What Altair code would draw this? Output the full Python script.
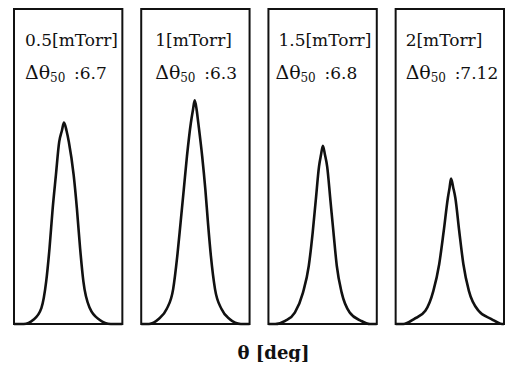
import altair as alt
import pandas as pd

# ---- data ----
pressures = ["0.5[mTorr]", "1[mTorr]", "1.5[mTorr]", "2[mTorr]"]
fwhm_values = [":6.7", ":6.3", ":6.8", ":7.12"]

theta_1 = [-13.5, -11.09, -8.68, -6.68, -5.47, -4.65, -3.86, -3.06, -2.24, -1.57, -1.04,
           -0.41, 0.17, 1.37, 2.17, 2.97, 3.78, 5.38, 7.79, 10.61, 13.5]
inten_1 = [0, 0, 1.34, 4.99, 13.42, 23.71, 36.19, 46.58, 57.0, 60.5, 63.03,
           60.5, 57.0, 46.58, 36.19, 23.71, 13.42, 4.99, 1.34, 0, 0]

theta_2 = [-13.5, -11.57, -9.16, -7.16, -5.54, -4.51, -3.69, -2.89, -2.10, -1.13, -0.60, -0.17,
           0.31, 0.72, 1.69, 2.48, 3.13, 3.86, 4.89, 6.51, 8.51, 11.33, 13.5]
inten_2 = [0, 0, 1.56, 4.68, 10.92, 21.31, 31.73, 42.12, 52.51, 62.93, 67.08, 69.99,
           67.08, 62.93, 52.51, 42.12, 31.73, 21.31, 10.92, 4.68, 1.56, 0, 0]

theta_3 = [-13.5, -11.81, -9.33, -6.92, -4.89, -3.45, -2.48, -1.69, -0.89, -0.41, 0.07,
           0.60, 1.13, 1.93, 2.72, 3.54, 4.75, 6.75, 9.57, 11.81, 13.5]
inten_3 = [0, 0, 1.0, 3.59, 9.83, 18.16, 28.55, 38.94, 49.36, 52.89, 55.79,
           52.89, 49.36, 38.94, 28.55, 18.16, 9.83, 3.59, 1.0, 0, 0]

theta_4 = [-13.5, -11.57, -8.92, -6.10, -4.10, -2.65, -1.52, -0.48, -0.05, 0.31,
           0.84, 1.37, 2.34, 3.38, 4.75, 7.16, 10.37, 13.02, 13.5]
inten_4 = [0, 0, 1.56, 4.15, 10.39, 18.72, 29.11, 39.53, 42.75, 45.55,
           42.75, 39.53, 29.11, 18.72, 10.39, 4.15, 1.56, 0, 0]

thetas = [theta_1, theta_2, theta_3, theta_4]
intens = [inten_1, inten_2, inten_3, inten_4]

# ---- layout constants (panel frame in theta units) ----
HALF = 13.5            # each panel shows -13.5 .. 13.5 deg
GAP = 4.7              # gap between panels, deg
STEP = 2 * HALF + GAP
Y_TOP = 98.6
W, H = 502, 354        # whole chart (autosize fit)
line1_dx = [11, 14, 10, 10]
line2_dx = [11, 14, 7, 10]
FONT = "DejaVu Serif"
INK = "#111111"

rows = []
for i in range(4):
    for t, v in zip(thetas[i], intens[i]):
        rows.append({"panel": i, "x": t + i * STEP, "intensity": v})
curves_df = pd.DataFrame(rows)

frames_df = pd.DataFrame({
    "panel": list(range(4)),
    "x0": [-HALF + i * STEP for i in range(4)],
    "x1": [HALF + i * STEP for i in range(4)],
    "y0": [0] * 4,
    "y1": [Y_TOP] * 4,
})

xscale = alt.Scale(domain=[-HALF, HALF + 3 * STEP], nice=False, zero=False)
yscale = alt.Scale(domain=[0, Y_TOP], nice=False, zero=True)

xaxis = alt.Axis(labels=False, ticks=False, domain=False, grid=False,
                 title="θ [deg]", titleFont=FONT, titleFontSize=18, titleFontWeight="bold",
                 titleColor=INK, titleX=259, titleY=34, titleAlign="center",
                 titleBaseline="alphabetic", titleAnchor="start")

frames = alt.Chart(frames_df).mark_rect(fillOpacity=0, stroke=INK, strokeWidth=2).encode(
    x=alt.X("x0:Q", scale=xscale, axis=xaxis),
    x2="x1:Q",
    y=alt.Y("y0:Q", scale=yscale, axis=None),
    y2="y1:Q",
)

curves = alt.Chart(curves_df).mark_line(color=INK, strokeWidth=2.6, interpolate="monotone").encode(
    x=alt.X("x:Q", scale=xscale),
    y=alt.Y("intensity:Q", scale=yscale),
    detail="panel:N",
)

layers = [frames, curves]
for i in range(4):
    lab = pd.DataFrame({"x": [-HALF + i * STEP], "p": [pressures[i]], "d": ["Δθ"],
                        "s": ["50"], "v": [fwhm_values[i]]})
    base = alt.Chart(lab)
    layers.append(base.mark_text(align="left", baseline="alphabetic", font=FONT, fontSize=17,
                                 color=INK, dx=line1_dx[i]).encode(
        x=alt.X("x:Q", scale=xscale), text="p:N", y=alt.value(37)))
    layers.append(base.mark_text(align="left", baseline="alphabetic", font=FONT, fontSize=19,
                                 color=INK, dx=line2_dx[i]).encode(
        x=alt.X("x:Q", scale=xscale), text="d:N", y=alt.value(70)))
    layers.append(base.mark_text(align="left", baseline="alphabetic", font=FONT, fontSize=12,
                                 color=INK, dx=line2_dx[i] + 25).encode(
        x=alt.X("x:Q", scale=xscale), text="s:N", y=alt.value(73)))
    layers.append(base.mark_text(align="left", baseline="alphabetic", font=FONT, fontSize=17,
                                 color=INK, dx=line2_dx[i] + 49).encode(
        x=alt.X("x:Q", scale=xscale), text="v:N", y=alt.value(70)))

chart = alt.layer(*layers).properties(
    width=W, height=H,
    padding=0,
    autosize=alt.AutoSizeParams(type="fit", contains="padding"),
    background="white",
).configure_view(stroke=None)

chart.save("out.html", embed_options={"renderer": "svg", "actions": False})
